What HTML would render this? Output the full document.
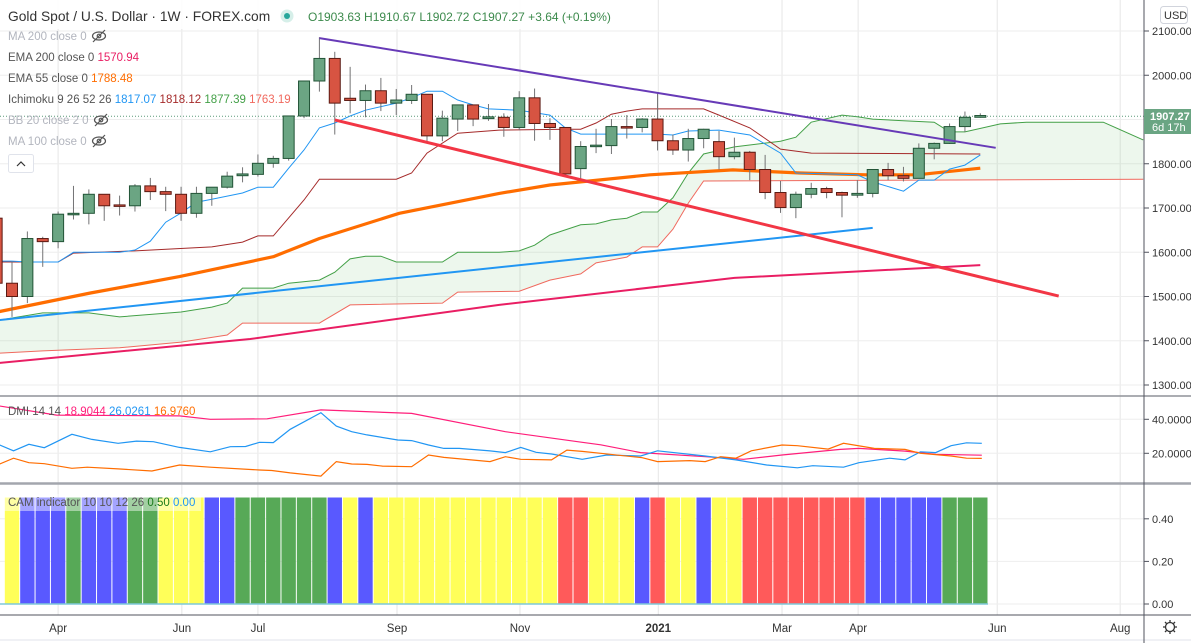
<!DOCTYPE html>
<html><head><meta charset="utf-8">
<style>
html,body{margin:0;padding:0;background:#fff;}
body{width:1191px;height:643px;overflow:hidden;position:relative;font-family:"Liberation Sans",sans-serif;}
svg{position:absolute;left:0;top:0;}
text{font-family:"Liberation Sans",sans-serif;}
</style></head>
<body>
<svg id="chart" width="1191" height="643" viewBox="0 0 1191 643"></svg>
<script>
// ---------- DATA ----------
const candleOpen  = [1530,1500,1631,1624,1686,1688,1731,1707,1705,1750,1737,1731,1688,1733,1747,1773,1776,1801,1812,1908,1987,2038,1948,1943,1965,1937,1943,1957,1863,1901,1933,1902,1905,1882,1949,1891,1882,1789,1839,1841,1884,1882,1901,1852,1831,1857,1850,1816,1826,1787,1735,1701,1731,1744,1735,1729,1733,1787,1773,1767,1835,1846,1884,1905];
const candleHigh  = [1579,1647,1635,1692,1750,1742,1731,1728,1754,1768,1748,1748,1748,1747,1782,1792,1821,1818,1908,1987,2086,2053,2019,1979,1994,1969,1978,1957,1920,1933,1933,1935,1914,1964,1970,1903,1882,1851,1879,1901,1910,1903,1959,1866,1879,1879,1874,1859,1829,1820,1761,1737,1757,1748,1737,1763,1787,1802,1793,1846,1848,1891,1918,1914];
const candleLow   = [1454,1485,1567,1609,1674,1663,1671,1683,1692,1718,1693,1671,1678,1705,1744,1758,1771,1791,1807,1903,1963,1866,1914,1905,1919,1910,1935,1851,1851,1874,1885,1897,1861,1876,1852,1854,1777,1766,1824,1822,1857,1871,1830,1820,1805,1835,1787,1810,1763,1720,1689,1677,1722,1722,1679,1723,1724,1763,1760,1767,1810,1845,1872,1904];
const candleClose = [1500,1631,1624,1686,1688,1731,1705,1705,1750,1737,1731,1688,1733,1747,1772,1777,1801,1812,1908,1987,2038,1937,1943,1965,1937,1944,1957,1863,1903,1933,1901,1906,1882,1949,1891,1882,1777,1839,1842,1884,1882,1901,1852,1831,1857,1878,1816,1826,1787,1735,1701,1731,1744,1735,1729,1733,1787,1773,1767,1835,1846,1884,1905,1909];

const ema55Idx = [-0.8,5.1,10.9,17,20,25.2,31.7,35,41.5,46.9,51.3,55.6,58.9,63];
const ema55Val = [1466,1508,1545,1590,1631,1688,1733,1752,1775,1786,1779,1775,1775,1790];
const ema200Idx = [-0.8,15.5,31.7,47,63];
const ema200Val = [1350,1404,1481,1542,1571];

const tenkanIdx = [-0.8,0,1,3,4,7,8,9,10,11,12,13,14,15,16,17,18,19,20,21,22,23,25,26,27,28,29,30,31,33,35,36,37,42,43,44,46,48,50,51,55,56,58,59,60,61,62,63];
const tenkanVal = [1580,1580,1578,1578,1600,1600,1605,1625,1668,1689,1713,1720,1727,1734,1747,1747,1790,1831,1881,1892,1908,1921,1937,1949,1964,1964,1944,1933,1924,1921,1910,1881,1867,1867,1865,1874,1876,1865,1824,1779,1775,1759,1738,1763,1763,1788,1797,1820];
const kijunIdx = [-0.8,3,4,8,13,15,16,17,19,20,25,26,27,29,31.7,36,37,38,39,40,41,45,46,48,50,52,63];
const kijunVal = [1578,1578,1598,1603,1612,1623,1637,1637,1718,1765,1765,1779,1824,1869,1876,1878,1878,1892,1912,1919,1924,1924,1910,1881,1833,1824,1822];
const spanAIdx = [-0.8,2,5,7,11,13,14,15,17,18,20,21,22,23,24,25,28,29,31.7,33,34,35,37,38,39,40,41,42,43,44,45,47,50,51,52,54,55,56,58,60,61,62,64.3,66,71,73.6];
const spanAVal = [1447,1463,1463,1454,1465,1476,1485,1519,1519,1530,1537,1555,1585,1591,1591,1578,1578,1600,1600,1603,1616,1639,1662,1664,1673,1677,1691,1691,1723,1779,1822,1838,1851,1860,1894,1910,1906,1901,1897,1894,1872,1872,1890,1894,1894,1854];
const spanBIdx = [-0.8,2,7,11,14,15,20,22,28,29,33,35,37,38,40,41,42,43,44,45,73.6];
const spanBVal = [1372,1377,1384,1397,1413,1440,1440,1481,1485,1510,1512,1537,1551,1576,1589,1612,1612,1652,1711,1761,1765];

const trendPurple = [[20,2084],[64,1836]];
const trendRed    = [[21,1899],[68.1,1501]];
const trendBlue   = [[-0.8,1447],[56,1655]];
const lastPrice = 1907.27;

const priceTicks = [2100,2000,1900,1800,1700,1600,1500,1400,1300];

const adxIdx = [-0.8,2.9,10.9,12.9,16.6,20.1,26,32.1,37.1,38.3,40.9,45.1,47.6,50.1,53.9,55.1,58.1,60.1,63.1];
const adxVal = [47.8,42.5,42,40,40.3,45.5,43.5,32.7,26.5,25,20.4,18,16.5,19,22.3,22.9,21.3,19.4,18.9];
const pdiIdx = [-0.8,0.1,1.1,2.1,3.9,5.2,6.9,8.1,9.2,10.9,12.9,14.2,15.2,16.1,17,18.1,20.1,21.1,22.1,23.1,25.1,26,27.1,28.1,29.1,31.1,32.1,33.1,34.1,35.1,37.1,38.7,40.9,42,45.1,47.1,49.1,51.1,52.1,54.1,55.1,57.1,58.1,59.1,60.1,61.1,62.1,63.1];
const pdiVal = [24.9,21.5,25.3,23.3,31.2,28.2,25.9,27.2,26.8,23.5,20.9,23.9,24,26.5,26.3,34.1,43.9,36,32.7,30.8,27.8,27.5,24.9,22.9,22.9,21.4,20.4,23.5,20.6,19.6,16.5,19,18.4,21.5,18.4,16.1,13.1,11.5,12.7,11.8,14.5,17.1,16.1,20.9,20.4,24.5,26.2,25.9];
const mdiIdx = [-0.8,0.1,1.1,2.1,3.9,4.9,6.9,9.1,10.9,12.9,16.1,16.9,18.1,20.1,21.1,22.1,23.1,24.1,26,27.1,28.1,31.1,32.1,33.1,35.1,36.1,37.1,38.3,41,42,44.1,45.1,46.1,47.1,48.1,50.1,51.1,53.1,54.1,56.1,58.1,59.1,61.1,62.1,63.1];
const mdiVal = [13.7,17.1,14.5,13.9,11.2,11.8,10.8,9.6,13.1,11.8,10.2,9.9,8.5,6.6,15.1,13.7,13.5,12.5,12.1,19,17.6,15.1,18,16.5,16.1,21.9,21.1,20,17.4,15.1,15.7,15.1,18,17.1,21.5,24.9,24.5,22.5,25.9,22.9,22.3,20,18.4,17.1,17];
const dmiTicks = [40,20];

// CAM states per candle: Y yellow, B blue, G green, R red
const camState = "YBBBGBBBGGYYYBBGGGGGGBYBYYYYYYYYYYYYRRYYYBRYYBYYRRRRRRRRBBBBBGGG";
const camValue = 0.5;
const camTicks = [0.4,0.2,0.0];

const monthLabels = ["Apr","Jun","Jul","Sep","Nov","2021","Mar","Apr","Jun","Aug"];
const monthIdx = [3,11.05,16,25.05,33.05,42.05,50.1,55.05,64.1,72.1];

// ---------- SCALES ----------
const X0 = 12, DX = 15.37;
const xOf = i => X0 + i*DX;
const yP = p => 31 + (2100-p)*0.4425;
const yD = v => 453.3 - (v-20)*1.7;
const yC = v => 604 - v*213;
const PLOT_R = 1144;

const svg = document.getElementById('chart');
const NS = 'http://www.w3.org/2000/svg';
function mk(tag, attrs, parent){
  const e = document.createElementNS(NS, tag);
  for (const k in attrs) e.setAttribute(k, attrs[k]);
  (parent||svg).appendChild(e);
  return e;
}
function txt(s, attrs, parent){ const t = mk('text', attrs, parent); t.textContent = s; return t; }

const defs = mk('defs',{});
const cp = mk('clipPath',{id:'mainclip'},defs); mk('rect',{x:0,y:0,width:PLOT_R,height:395},cp);
const cp2 = mk('clipPath',{id:'dmiclip'},defs); mk('rect',{x:0,y:398,width:PLOT_R,height:84},cp2);

// ---------- GRID ----------
const grid = mk('g',{});


monthIdx.forEach(i=>{
  mk('line',{x1:xOf(i),x2:xOf(i),y1:0,y2:615,stroke:'#e6e6e6','stroke-width':1},grid);
});
priceTicks.forEach(p=>{
  mk('line',{x1:0,x2:PLOT_R,y1:yP(p),y2:yP(p),stroke:'#eeeeee','stroke-width':1},grid);
});
dmiTicks.forEach(v=>{
  mk('line',{x1:0,x2:PLOT_R,y1:yD(v),y2:yD(v),stroke:'#eeeeee','stroke-width':1},grid);
});
camTicks.forEach(v=>{
  mk('line',{x1:0,x2:PLOT_R,y1:yC(v),y2:yC(v),stroke:'#eeeeee','stroke-width':1},grid);
});

// ---------- MAIN ----------
const main = mk('g',{'clip-path':'url(#mainclip)'});



function pathFrom(idx, val, yf){
  return idx.map((i,k)=>(k?'L':'M')+xOf(i).toFixed(1)+','+yf(val[k]).toFixed(1)).join(' ');
}
function valAt(idx,val,i){
  if(i<=idx[0]) return val[0];
  for(let k=1;k<idx.length;k++){ if(i<=idx[k]){const t=(i-idx[k-1])/(idx[k]-idx[k-1]);return val[k-1]+t*(val[k]-val[k-1]);} }
  return val[val.length-1];
}
(function(){
  const xs=[]; const start=-0.8, end=73.6;
  for(let i=start;i<=end+0.001;i+=0.2) xs.push(i);
  let d='M'+xs.map(i=>xOf(i).toFixed(1)+','+yP(valAt(spanAIdx,spanAVal,i)).toFixed(1)).join(' L');
  d+=' L'+xs.slice().reverse().map(i=>xOf(i).toFixed(1)+','+yP(valAt(spanBIdx,spanBVal,i)).toFixed(1)).join(' L')+'Z';
  const c=mk('path',{d:d,fill:'rgba(76,175,80,0.1)',stroke:'none'},main);
  
  
})();
let e;
e=mk('path',{d:pathFrom(spanAIdx,spanAVal,yP),fill:'none',stroke:'#43a047','stroke-width':1},main);
 
e=mk('path',{d:pathFrom(spanBIdx,spanBVal,yP),fill:'none',stroke:'#f0695e','stroke-width':1},main);
 
e=mk('path',{d:pathFrom(ema200Idx,ema200Val,yP),fill:'none',stroke:'#e91e63','stroke-width':2},main);
 
e=mk('path',{d:pathFrom([trendBlue[0][0],trendBlue[1][0]],[trendBlue[0][1],trendBlue[1][1]],yP),fill:'none',stroke:'#2196f3','stroke-width':2},main);
 
e=mk('path',{d:pathFrom(ema55Idx,ema55Val,yP),fill:'none',stroke:'#ff6d00','stroke-width':3.2,'stroke-linejoin':'round'},main);
 
e=mk('path',{d:pathFrom(kijunIdx,kijunVal,yP),fill:'none',stroke:'#a52a2a','stroke-width':1},main);
 
e=mk('path',{d:pathFrom(tenkanIdx,tenkanVal,yP),fill:'none',stroke:'#2196f3','stroke-width':1},main);
 
e=mk('line',{x1:0,x2:PLOT_R,y1:yP(lastPrice),y2:yP(lastPrice),stroke:'#5a9a78','stroke-width':1,'stroke-dasharray':'1,2'},main);
 

candleOpen.forEach((o,i)=>{
  const c=candleClose[i], h=candleHigh[i], l=candleLow[i];
  const up=c>=o; const x=xOf(i);
  const g=mk('g',{},main);
  
  
  mk('line',{x1:x,x2:x,y1:yP(h),y2:yP(l),stroke:'#737375','stroke-width':1},g);
  const top=yP(Math.max(o,c)), bot=yP(Math.min(o,c));
  mk('rect',{x:x-5.5,y:top,width:11,height:Math.max(1.5,bot-top),fill:up?'#6ba583':'#d75442',stroke:up?'#225437':'#5b1a13','stroke-width':1},g);
});
e=mk('rect',{x:xOf(-1)-5.5,y:yP(1677),width:11,height:yP(1530)-yP(1677),fill:'#d75442',stroke:'#5b1a13','stroke-width':1},main);
 

e=mk('path',{d:pathFrom([trendPurple[0][0],trendPurple[1][0]],[trendPurple[0][1],trendPurple[1][1]],yP),fill:'none',stroke:'#673ab7','stroke-width':2},main);
 
e=mk('path',{d:pathFrom([trendRed[0][0],trendRed[1][0]],[trendRed[0][1],trendRed[1][1]],yP),fill:'none',stroke:'#f23645','stroke-width':3},main);
 

// ---------- DMI ----------
const dmi = mk('g',{'clip-path':'url(#dmiclip)'});


e=mk('path',{d:pathFrom(adxIdx,adxVal,yD),fill:'none',stroke:'#ff1e7a','stroke-width':1.2},dmi);
 
e=mk('path',{d:pathFrom(pdiIdx,pdiVal,yD),fill:'none',stroke:'#2196f3','stroke-width':1.2},dmi);
 
e=mk('path',{d:pathFrom(mdiIdx,mdiVal,yD),fill:'none',stroke:'#ff6d00','stroke-width':1.2},dmi);
 

// ---------- CAM ----------
const camColors = {Y:'#ffff59',B:'#5959ff',G:'#57a957',R:'#ff5a5a'};
const cam = mk('g',{});


camState.split('').forEach((s,i)=>{
  const r=mk('rect',{x:xOf(i)-DX/2+0.5,y:yC(camValue),width:DX-1,height:yC(0)-yC(camValue),fill:camColors[s]},cam);
  
  
});
e=mk('line',{x1:0,x2:xOf(63)+DX/2,y1:yC(0),y2:yC(0),stroke:'#7fc8d8','stroke-width':1.5},cam);
 

// ---------- SEPARATORS / AXES ----------
mk('line',{x1:0,x2:1191,y1:396,y2:396,stroke:'#8f9299','stroke-width':1.5});
mk('line',{x1:0,x2:1191,y1:483.5,y2:483.5,stroke:'#a3a6ad','stroke-width':2.5});
mk('line',{x1:0,x2:1191,y1:615,y2:615,stroke:'#50535e','stroke-width':1});
mk('line',{x1:0,x2:1191,y1:640,y2:640,stroke:'#e0e3eb','stroke-width':1});
mk('line',{x1:PLOT_R,x2:PLOT_R,y1:0,y2:643,stroke:'#50535e','stroke-width':1});

const axis = mk('g',{fill:'#333','font-size':'11'});


priceTicks.forEach(p=>{
  mk('line',{x1:PLOT_R,x2:PLOT_R+5,y1:yP(p),y2:yP(p),stroke:'#50535e'},axis);
  const t=txt(p.toFixed(2),{x:1152,y:yP(p)+4},axis);
   
});
dmiTicks.forEach(v=>{
  mk('line',{x1:PLOT_R,x2:PLOT_R+5,y1:yD(v),y2:yD(v),stroke:'#50535e'},axis);
  const t=txt(v.toFixed(4),{x:1152,y:yD(v)+4},axis);
   
});
camTicks.forEach(v=>{
  mk('line',{x1:PLOT_R,x2:PLOT_R+5,y1:yC(v),y2:yC(v),stroke:'#50535e'},axis);
  const t=txt(v.toFixed(2),{x:1152,y:yC(v)+4},axis);
   
});
const taxis = mk('g',{fill:'#333','font-size':'11.5','text-anchor':'middle'});


monthLabels.forEach((m,k)=>{
  const t=txt(m,{x:xOf(monthIdx[k]),y:632,'font-weight':m==='2021'?'bold':'normal'},taxis);
   
});
</script>

<svg width="1191" height="643" style="pointer-events:none">
  <g>
    <rect x="0" y="0" width="610" height="29" fill="rgba(255,255,255,0.85)"/>
    <text x="8" y="21" font-size="13.8" fill="#333">Gold Spot / U.S. Dollar · 1W · FOREX.com</text>
  </g>
  <g>
    <circle cx="287" cy="16" r="6.5" fill="#d6efe9"/><circle cx="287" cy="16" r="3" fill="#26a69a"/>
  </g>
  <text x="308" y="21" font-size="12" fill="#3c8a4c">O1903.63 H1910.67 L1902.72 C1907.27 +3.64 (+0.19%)</text>
  <g font-size="11.5">
    <text x="8" y="40" fill="#b2b5be">MA 200 close 0</text>
    <text x="8" y="61" fill="#555">EMA 200 close 0 <tspan fill="#e91e63">1570.94</tspan></text>
    <text x="8" y="82" fill="#555">EMA 55 close 0 <tspan fill="#ff6d00">1788.48</tspan></text>
    <text x="8" y="103" fill="#555">Ichimoku 9 26 52 26 <tspan fill="#2196f3">1817.07</tspan> <tspan fill="#a52a2a">1818.12</tspan> <tspan fill="#43a047">1877.39</tspan> <tspan fill="#f0695e">1763.19</tspan></text>
    <text x="8" y="124" fill="#b2b5be">BB 20 close 2 0</text>
    <text x="8" y="145" fill="#b2b5be">MA 100 close 0</text>
  </g>
  <g fill="none" stroke="#555" stroke-width="1.2">
    <g><ellipse cx="99" cy="36" rx="6.5" ry="4"/><circle cx="99" cy="36" r="1.8"/><line x1="93" y1="42" x2="105" y2="30"/></g>
    <g><ellipse cx="101" cy="120" rx="6.5" ry="4"/><circle cx="101" cy="120" r="1.8"/><line x1="95" y1="126" x2="107" y2="114"/></g>
    <g><ellipse cx="99" cy="141" rx="6.5" ry="4"/><circle cx="99" cy="141" r="1.8"/><line x1="93" y1="147" x2="105" y2="135"/></g>
  </g>
  <g>
    <rect x="8.5" y="154.5" width="25" height="18" rx="2" fill="#fff" stroke="#e0e3eb"/>
    <path d="M17 166 L21 162 L25 166" fill="none" stroke="#333" stroke-width="1.2"/>
  </g>
  <text x="8" y="415" font-size="11.5" fill="#555">DMI 14 14 <tspan fill="#ff1e7a">18.9044</tspan> <tspan fill="#2196f3">26.0261</tspan> <tspan fill="#ff6d00">16.9760</tspan></text>
  <g>
    <rect x="4" y="494" width="197" height="17" fill="rgba(255,255,255,0.45)"/>
    <text x="8" y="506" font-size="11.5" fill="#555">CAM indicator 10 10 12 26 <tspan fill="#1b7a1b">0.50</tspan> <tspan fill="#2196f3">0.00</tspan></text>
  </g>
  <g>
    <rect x="1160.5" y="6.5" width="27" height="17" rx="3" fill="#fff" stroke="#d1d4dc"/>
    <text x="1164" y="19" font-size="11" fill="#333">USD</text>
  </g>
  <g>
    <rect x="1144" y="109" width="47" height="25" fill="#6aa583"/>
    <text x="1150" y="120" font-size="11" font-weight="bold" fill="#fff">1907.27</text>
    <text x="1152" y="131" font-size="11" fill="#fff">6d 17h</text>
  </g>
  <g fill="none" stroke="#333" stroke-width="1.3">
    <circle cx="1170" cy="627" r="4.5"/>
    <path d="M1170 620v2M1170 632v2M1163 627h2M1175 627h2M1165 622l1.5 1.5M1173.5 630.5l1.5 1.5M1165 632l1.5-1.5M1173.5 623.5l1.5-1.5"/>
  </g>
</svg>
</body></html>
